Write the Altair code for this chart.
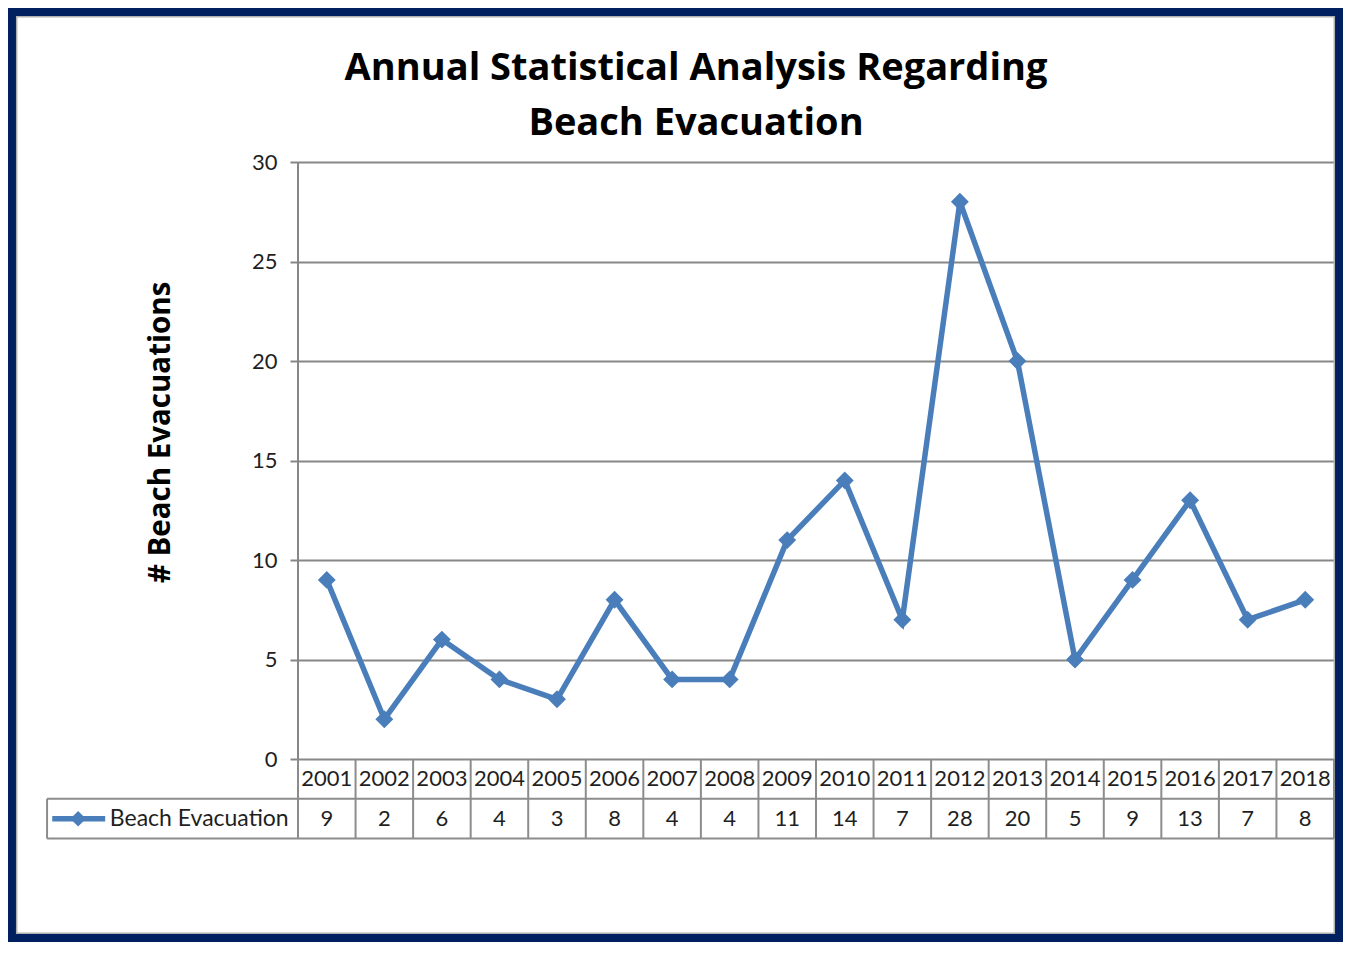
import altair as alt
import pandas as pd

# ---- data ----
YEARS = ["2001", "2002", "2003", "2004", "2005", "2006", "2007", "2008", "2009",
         "2010", "2011", "2012", "2013", "2014", "2015", "2016", "2017", "2018"]
VALUES = [9, 2, 6, 4, 3, 8, 4, 4, 11, 14, 7, 28, 20, 5, 9, 13, 7, 8]
SERIES_NAME = "Beach Evacuation"
TITLE_LINES = ["Annual Statistical Analysis Regarding", "Beach Evacuation"]
Y_TITLE = "# Beach Evacuations"
Y_TICKS = [0, 5, 10, 15, 20, 25, 30]

# ---- styling ----
FONT = "Lato"
TITLE_FONT = "Open Sans"
LINE_COLOR = "#4a7ebb"
GRID_COLOR = "#878787"
TABLE_COLOR = "#8c8c8c"
TEXT_COLOR = "#1f1f1f"
NAVY = "#002060"

N = len(YEARS)
X0, X1 = -0.5, N - 0.5          # category slots
Y_MIN, Y_MAX = -4, 30           # rows of the data table live below 0
ROW1, ROW2 = -1, -3             # centers of year row and value row
LEG_LEFT = -4.86                # left edge of legend cell (in slot units)

W = 1036
H = 676.6

df = pd.DataFrame({"i": list(range(N)), "year": YEARS, "value": VALUES})

xs = alt.Scale(domain=[X0, X1], nice=False, zero=False)
ys = alt.Scale(domain=[Y_MIN, Y_MAX], nice=False, zero=False)


def X(field, **kw):
    return alt.X(field, type="quantitative", scale=xs, axis=None, **kw)


def Y(field, **kw):
    return alt.Y(field, type="quantitative", scale=ys, axis=None, **kw)


# main line with y axis (grid)
line = alt.Chart(df).mark_line(
    color=LINE_COLOR, strokeWidth=5.5,
    point=alt.OverlayMarkDef(shape="diamond", size=320, filled=True, color=LINE_COLOR, opacity=1),
).encode(
    x=X("i"),
    y=alt.Y("value", type="quantitative", scale=ys, axis=alt.Axis(
        values=Y_TICKS, grid=True, gridColor=GRID_COLOR, gridWidth=2,
        domain=False, ticks=True, tickSize=8, tickColor=GRID_COLOR, tickWidth=2,
        labelFont=FONT, labelFontSize=22, labelColor=TEXT_COLOR, labelPadding=13,
        title=Y_TITLE, titleFont=TITLE_FONT, titleFontSize=29.5, titleFontWeight="bold",
        titleColor="#000000", titleX=-138, titleY=270, titleAngle=-90,
        titleBaseline="middle", titleAlign="center",
    )),
)

# frame
frame = alt.Chart(df).mark_rect(fillOpacity=0, stroke=NAVY, strokeWidth=8).encode(
    x=alt.value(-286), x2=alt.value(1041), y=alt.value(-150), y2=alt.value(776)
).transform_filter("datum.i == 0")
frame_inner = alt.Chart(df).mark_rect(fillOpacity=0, stroke="#b0b0b0", strokeWidth=1.5).encode(
    x=alt.value(-281.3), x2=alt.value(1036.3), y=alt.value(-145.3), y2=alt.value(771.3)
).transform_filter("datum.i == 0")

# vertical axis line
axis_df = pd.DataFrame({"x": [X0], "y": [0], "y2": [Y_MAX]})
axis_line = alt.Chart(axis_df).mark_rule(color=GRID_COLOR, strokeWidth=2).encode(
    x=X("x"), y=Y("y"), y2="y2"
)

# table vertical lines
vdf = pd.DataFrame({"x": [k - 0.5 for k in range(N + 1)], "y": [0] * (N + 1), "y2": [Y_MIN] * (N + 1)})
vlines = alt.Chart(vdf).mark_rule(color=TABLE_COLOR, strokeWidth=2).encode(
    x=X("x"), y=Y("y"), y2="y2"
)
# legend cell left line
ldf = pd.DataFrame({"x": [LEG_LEFT], "y": [-2], "y2": [Y_MIN]})
lline = alt.Chart(ldf).mark_rule(color=TABLE_COLOR, strokeWidth=2).encode(
    x=X("x"), y=Y("y"), y2="y2"
)
# table horizontal lines
hdf = pd.DataFrame({"x": [LEG_LEFT, LEG_LEFT], "x2": [X1, X1], "y": [-2, Y_MIN]})
hlines = alt.Chart(hdf).mark_rule(color=TABLE_COLOR, strokeWidth=2).encode(
    x=X("x"), x2="x2", y=Y("y")
)

# table texts
df_t = df.assign(r1=ROW1, r2=ROW2)
year_text = alt.Chart(df_t).mark_text(font=FONT, fontSize=22, color=TEXT_COLOR, baseline="middle").encode(
    x=X("i"), y=Y("r1"), text="year:N"
)
val_text = alt.Chart(df_t).mark_text(font=FONT, fontSize=22, color=TEXT_COLOR, baseline="middle").encode(
    x=X("i"), y=Y("r2"), text="value:Q"
)

# legend key inside the table
key_df = pd.DataFrame({"x": [-4.77], "x2": [-3.85], "xm": [-4.32], "xt": [-3.77], "y": [ROW2], "name": [SERIES_NAME]})
key_line = alt.Chart(key_df).mark_rule(color=LINE_COLOR, strokeWidth=5.5).encode(
    x=X("x"), x2="x2", y=Y("y")
)
key_pt = alt.Chart(key_df).mark_point(shape="diamond", size=240, filled=True, color=LINE_COLOR, opacity=1).encode(
    x=X("xm"), y=Y("y")
)
key_text = alt.Chart(key_df).mark_text(font=FONT, fontSize=23, color=TEXT_COLOR, align="left", baseline="middle").encode(
    x=X("xt"), y=Y("y"), text="name:N"
)

# title lines
t1 = alt.Chart(df).mark_text(text=TITLE_LINES[0], font=TITLE_FONT, fontSize=38, fontWeight="bold",
                             color="#000000", align="center", baseline="alphabetic").encode(
    x=alt.value(398), y=alt.value(-82)
).transform_filter("datum.i == 0")
t2 = alt.Chart(df).mark_text(text=TITLE_LINES[1], font=TITLE_FONT, fontSize=38, fontWeight="bold",
                             color="#000000", align="center", baseline="alphabetic").encode(
    x=alt.value(398), y=alt.value(-27)
).transform_filter("datum.i == 0")

chart = alt.layer(
    line, frame, frame_inner, vlines, lline, hlines, axis_line,
    year_text, val_text, key_line, key_pt, key_text, t1, t2
).resolve_axis(y="independent", x="independent").properties(
    width=W, height=H,
    background="white",
    autosize=alt.AutoSizeParams(type="none"),
    padding={"left": 290, "top": 154, "right": 9, "bottom": 103.4},
).configure_view(strokeWidth=0)

chart.save("out.html", embed_options={"renderer": "svg", "actions": False})
